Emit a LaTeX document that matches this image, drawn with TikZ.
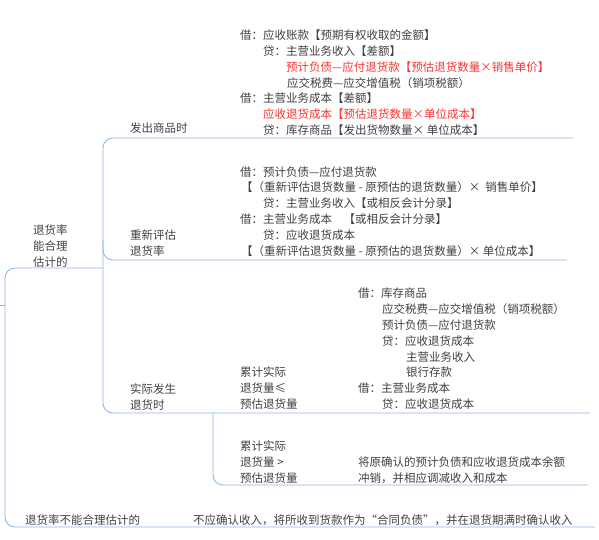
\documentclass[tikz,border=0pt]{standalone}
\usepackage{fontspec}
\usepackage{xcolor}
\newfontfamily\cjk{Noto Sans CJK SC}
\definecolor{txtgray}{RGB}{64,64,64}
\definecolor{txtred}{RGB}{250,52,48}
\definecolor{linkblue}{RGB}{141,180,226}

\begin{document}
\begin{tikzpicture}[x=1pt, y=-1pt,
		entry/.style={anchor=west, inner sep=0pt, text=txtgray, align=left,
			font=\cjk\fontsize{11.5}{16}\selectfont},
		hot/.style={entry, text=txtred},
		branch/.style={draw=linkblue, line width=0.9pt, rounded corners=10pt}]
	\useasboundingbox (0,0) rectangle (599,539);
	
	% Connectors
	\coordinate (root) at (0,305);
	\coordinate (hub) at (5,305);
	\coordinate (okEnd) at (103,268);
	\coordinate (noEnd) at (595,527);
	\coordinate (shipEnd) at (573,138);
	\coordinate (revalTop) at (103,240);
	\coordinate (revalEnd) at (567,260);
	\coordinate (actEnd) at (213,413);
	\coordinate (leEnd) at (590,413);
	\coordinate (gtEnd) at (588,485);
	\draw[branch] (root) -- (hub);
	\draw[branch] (okEnd) -- (okEnd -| hub) -- (noEnd -| hub) -- (noEnd);
	\draw[branch] (shipEnd) -- (shipEnd -| okEnd) -- (leEnd -| okEnd) -- (leEnd);
	\draw[branch] (revalTop) -- (revalTop |- revalEnd) -- (revalEnd);
	\draw[branch] (actEnd) -- (actEnd |- gtEnd) -- (gtEnd);
	
	% Left labels
	\node[entry] (ok) at (33,246) {退货率\\能合理\\估计的};
	\node[entry] (no) at (25,520) {退货率不能合理估计的};
	\node[entry] (noText) at (193,520) {不应确认收入，将所收到货款作为“合同负债”，并在退货期满时确认收入};
	
	% 发出商品时
	\node[entry] (ship) at (130,128) {发出商品时};
	\node[entry] (ship1) at (240,35) {借：应收账款【预期有权收取的金额】};
	\node[entry] (ship2) at (263,51) {贷：主营业务收入【差额】};
	\node[hot] (ship3) at (286,67) {预计负债—应付退货款【预估退货数量×销售单价】};
	\node[entry] (ship4) at (287,83) {应交税费—应交增值税（销项税额）};
	\node[entry] (ship5) at (240,98) {借：主营业务成本【差额】};
	\node[hot] (ship6) at (263,114) {应收退货成本【预估退货数量×单位成本】};
	\node[entry] (ship7) at (263,130) {贷：库存商品【发出货物数量× 单位成本】};
	
	% 重新评估退货率
	\node[entry] (reval) at (130,243) {重新评估\\退货率};
	\node[entry] (reval1) at (240,172) {借：预计负债—应付退货款};
	\node[entry] (reval2) at (241,187) {【（重新评估退货数量 - 原预估的退货数量）× \ 销售单价】};
	\node[entry] (reval3) at (263,203) {贷：主营业务收入【或相反会计分录】};
	\node[entry] (reval4) at (240,219) {借：主营业务成本\quad【或相反会计分录】};
	\node[entry] (reval5) at (263,235) {贷：应收退货成本};
	\node[entry] (reval6) at (241,251) {【（重新评估退货数量 - 原预估的退货数量）× 单位成本】};
	
	% 实际发生退货时
	\node[entry] (act) at (130,397) {实际发生\\退货时};
	\node[entry] (le) at (240,388) {累计实际\\退货量≤\\预估退货量};
	\node[entry] (le1) at (358,293) {借：库存商品};
	\node[entry] (le2) at (382,309) {应交税费—应交增值税（销项税额）};
	\node[entry] (le3) at (382,325) {预计负债—应付退货款};
	\node[entry] (le4) at (382,341) {贷：应收退货成本};
	\node[entry] (le5) at (406,357) {主营业务收入};
	\node[entry] (le6) at (406,372) {银行存款};
	\node[entry] (le7) at (358,388) {借：主营业务成本};
	\node[entry] (le8) at (382,404) {贷：应收退货成本};
	\node[entry] (gt) at (240,462) {累计实际\\退货量 >\\预估退货量};
	\node[entry] (gt1) at (358,470) {将原确认的预计负债和应收退货成本余额\\冲销，并相应调减收入和成本};
\end{tikzpicture}
\end{document}
